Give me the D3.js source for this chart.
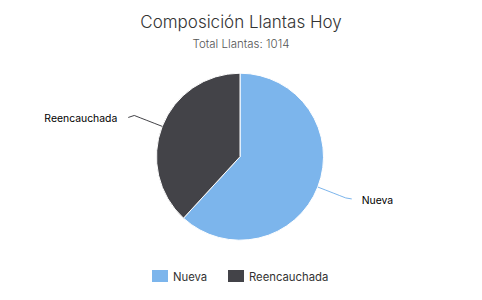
<!DOCTYPE html>
<html><head><meta charset="utf-8">
<script src="https://cdn.jsdelivr.net/npm/d3@7"></script>
<style>body{margin:0;background:#fff}svg{display:block}</style>
</head><body>
<svg id="c" width="482" height="300"></svg>
<script>
const categories = ["Nueva", "Reencauchada"];
const values = [627, 387];
const colors = ["#7cb5ec", "#434348"];
const titleText = "Composición Llantas Hoy";
const subtitleText = "Total Llantas: 1014";

const FONT = "Inter, 'Open Sans', sans-serif";
const svg = d3.select("#c");
const cx = 240, cy = 156.7, R = 83.5;

svg.append("text").attr("x", 241).attr("y", 28).attr("text-anchor", "middle")
  .attr("font-family", FONT).attr("font-size", 17).attr("font-weight", 300)
  .attr("fill", "#333333").text(titleText);
svg.append("text").attr("x", 241).attr("y", 47.5).attr("text-anchor", "middle")
  .attr("font-family", FONT).attr("font-size", 11.5).attr("font-weight", 300)
  .attr("fill", "#555555").text(subtitleText);

const data = categories.map((c, i) => ({cat: c, value: values[i], color: colors[i]}));
const pie = d3.pie().sort(null).value(d => d.value);
const arcs = pie(data);
const arc = d3.arc().innerRadius(0).outerRadius(R);
const g = svg.append("g").attr("transform", `translate(${cx},${cy})`);
g.selectAll("path.slice").data(arcs).join("path").attr("class", "slice")
  .attr("d", arc).attr("fill", d => d.data.color).attr("stroke", "#ffffff").attr("stroke-width", 1);

// data labels with connectors
arcs.forEach(a => {
  const mid = (a.startAngle + a.endAngle) / 2;
  const sx = Math.sin(mid), sy = -Math.cos(mid);
  const right = sx > 0;
  const p0 = [R * sx, R * sy];
  const p1 = [(R + 30) * sx, (R + 30) * sy];
  const endX = p1[0] + (right ? 6 : -6);
  const endY = p1[1] + (right ? 1 : 2);
  const ctrl = [(R + 18) * sx, (R + 18) * sy];
  g.append("path")
    .attr("d", `M${p0[0]},${p0[1]} Q${ctrl[0]},${ctrl[1]} ${p1[0]},${p1[1]} L${endX},${endY}`)
    .attr("fill", "none").attr("stroke", a.data.color).attr("stroke-width", 1);
  g.append("text").attr("x", endX + (right ? 10 : -11)).attr("y", endY + 5)
    .attr("text-anchor", right ? "start" : "end")
    .attr("font-family", FONT).attr("font-size", 10.4).attr("font-weight", 400)
    .attr("fill", "#000000").text(a.data.cat);
});

// legend
const legendItems = [{x: 152}, {x: 228}];
data.forEach((d, i) => {
  const lx = legendItems[i].x;
  svg.append("rect").attr("x", lx).attr("y", 270).attr("width", 16).attr("height", 12)
    .attr("fill", d.color);
  svg.append("text").attr("x", lx + 21).attr("y", 281)
    .attr("font-family", FONT).attr("font-size", 11.3).attr("font-weight", 400)
    .attr("fill", "#333333").text(d.cat);
});
</script>
</body></html>
